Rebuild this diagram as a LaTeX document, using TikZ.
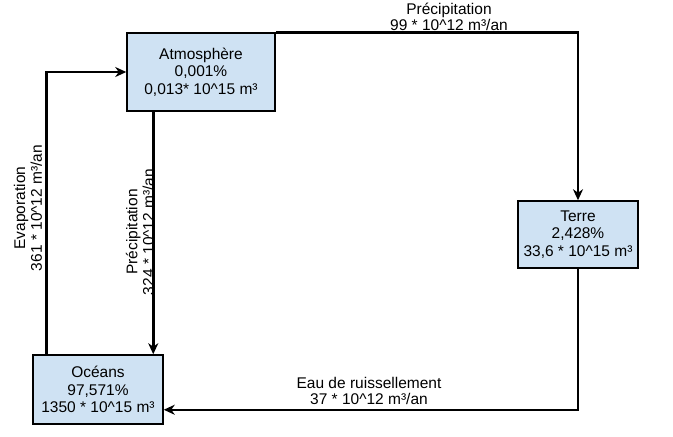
\documentclass[tikz,border=0pt]{standalone}
\usepackage{fontspec}
\setmainfont{Liberation Sans}
\usetikzlibrary{arrows.meta,positioning}
\tikzset{>={Stealth[length=11pt,width=10pt,inset=3.5pt]}}
\definecolor{boxblue}{RGB}{207,226,243}
\tikzset{reservoir/.style={draw, line width=1.5pt, fill=boxblue, align=center,
    inner sep=0pt, font=\fontsize{15.5}{17.6}\selectfont}}
\tikzset{flux/.style={line width=2.5pt, ->}}
\tikzset{fluxlabel/.style={align=center, inner sep=0pt,
    font=\fontsize{15.5}{16.6}\selectfont}}

\begin{document}
\begin{tikzpicture}[x=1pt, y=-1pt]
                \useasboundingbox (0,0) rectangle (673,437);%
                % reservoirs
                \node[reservoir, minimum width=148pt, minimum height=78pt] (atmo) at (201,72) {Atmosphère\\0,001\%\\0,013* 10\textasciicircum15 m³};%
                \node[reservoir, minimum width=120pt, minimum height=67pt] (terre) at (578,234.5) {Terre\\2,428\%\\33,6 * 10\textasciicircum15 m³};%
                \node[reservoir, minimum width=130pt, minimum height=69pt] (ocean) at (98,389.5) {Océans\\97,571\%\\1350 * 10\textasciicircum15 m³};%
                % flux
                \coordinate (evap) at ([xshift=14pt]ocean.north west);%
                \coordinate (pluie) at ([xshift=27pt]atmo.south west);%
                \draw[flux] (atmo.north east) -| (terre.north);%
                \draw[flux] (terre.south) |- ([yshift=15pt]ocean.south east);%
                \draw[flux] (evap) |- (atmo.west);%
                \draw[flux] (pluie) -- (pluie |- ocean.north);%
                % labels
                \node[fluxlabel] (ltop) at (449,17) {Précipitation\\99 * 10\textasciicircum12 m³/an};%
                \node[fluxlabel] (lbas) at (369,391) {Eau de ruissellement\\37 * 10\textasciicircum12 m³/an};%
                \node[fluxlabel, rotate=90] (levap) at (28,208) {Evaporation\\361 * 10\textasciicircum12 m³/an};%
                \node[fluxlabel, rotate=90] (lpluie) at (140,232) {Précipitation\\324 * 10\textasciicircum12 m³/an};%
\end{tikzpicture}
\end{document}
